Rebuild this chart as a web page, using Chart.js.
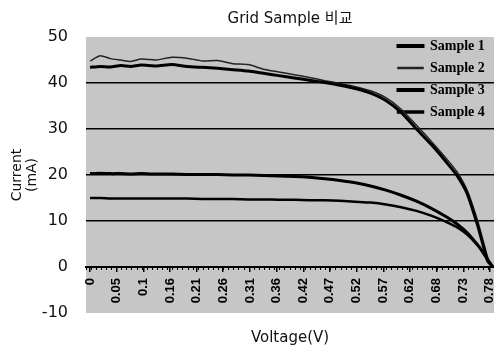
<!DOCTYPE html>
<html>
<head>
<meta charset="utf-8">
<script src="https://cdn.jsdelivr.net/npm/chart.js@4.4.1/dist/chart.umd.min.js"></script>
<style>
  html, body { margin: 0; padding: 0; background: #fff; }
  #wrap { width: 494px; height: 347px; }
</style>
</head>
<body>
<div id="wrap"><canvas id="chart"></canvas></div>
<script>
// Voltage points (V)
const voltage = [0, 0.02, 0.04, 0.06, 0.08, 0.1, 0.13, 0.16, 0.19, 0.22, 0.25, 0.28, 0.31, 0.34, 0.37, 0.4,
  0.43, 0.46, 0.49, 0.52, 0.55, 0.58, 0.61, 0.64, 0.67, 0.7, 0.72, 0.74, 0.76, 0.77, 0.78, 0.79];

// Current (mA) per sample
const sample1 = [43.4, 43.6, 43.5, 43.8, 43.6, 43.9, 43.7, 44.0, 43.6, 43.4, 43.2, 42.9, 42.6, 42.1, 41.6, 41.1,
  40.6, 40.1, 39.5, 38.8, 37.8, 36.2, 33.6, 30.0, 26.5, 22.6, 19.8, 15.8, 9.0, 5.0, 1.2, 0];
const sample2 = [44.8, 45.9, 45.3, 45.0, 44.7, 45.2, 45.0, 45.6, 45.4, 44.8, 44.9, 44.2, 44.0, 43.0, 42.4, 41.8,
  41.2, 40.5, 39.9, 39.2, 38.3, 36.8, 34.3, 30.8, 27.2, 23.4, 20.6, 16.5, 10.0, 6.0, 2.0, 0];
const sample3 = [20.3, 20.4, 20.3, 20.3, 20.2, 20.3, 20.2, 20.2, 20.1, 20.1, 20.1, 20.0, 20.0, 19.9, 19.8, 19.7,
  19.5, 19.2, 18.8, 18.3, 17.6, 16.7, 15.6, 14.3, 12.7, 10.8, 9.3, 7.4, 4.8, 3.3, 1.5, 0];
const sample4 = [15.0, 15.0, 14.9, 14.9, 14.9, 14.9, 14.9, 14.9, 14.9, 14.8, 14.8, 14.8, 14.7, 14.7, 14.6, 14.6,
  14.5, 14.5, 14.4, 14.2, 14.0, 13.6, 13.0, 12.2, 11.1, 9.7, 8.6, 7.0, 4.7, 3.2, 1.5, 0];

// Axis ticks
const xTickValues = [0, 0.052, 0.105, 0.157, 0.209, 0.261, 0.314, 0.366, 0.418, 0.47, 0.523, 0.575, 0.627, 0.68, 0.732, 0.784];
const xTickLabels = ['0', '0.05', '0.1', '0.16', '0.21', '0.26', '0.31', '0.36', '0.42', '0.47', '0.52', '0.57', '0.62', '0.68', '0.73', '0.78'];
const yTickValues = [-10, 0, 10, 20, 30, 40, 50];
const yGridValues = [10, 20, 30, 40];

const X_MIN = -0.008;
const X_MAX = 0.792;

function makeDataset(label, values, width, color) {
  return {
    label: label,
    data: voltage.map((v, i) => ({ x: v, y: values[i] })),
    borderColor: color,
    backgroundColor: color,
    borderWidth: width,
    pointRadius: 0,
    tension: 0.2,
    fill: false,
  };
}

// Grey plot area, white page
const plotBackground = {
  id: 'plotBackground',
  beforeDraw(chart) {
    const { ctx, chartArea: a } = chart;
    ctx.save();
    ctx.fillStyle = '#fff';
    ctx.fillRect(0, 0, chart.width, chart.height);
    ctx.fillStyle = '#c6c6c6';
    ctx.fillRect(a.left, a.top, a.right - a.left, a.bottom - a.top);
    ctx.restore();
  },
};

// Put the legend in the top right corner of the plot
const legendPlacer = {
  id: 'legendPlacer',
  afterLayout(chart) {
    const lg = chart.legend;
    if (!lg) return;
    const w = lg.width;
    const h = lg.height;
    lg.left = 390;
    lg.right = lg.left + w;
    lg.top = 31;
    lg.bottom = lg.top + h;
  },
};

new Chart(document.getElementById('chart'), {
  type: 'line',
  data: {
    datasets: [
      makeDataset('Sample 1', sample1, 3, '#000'),
      makeDataset('Sample 2', sample2, 1.5, '#222'),
      makeDataset('Sample 3', sample3, 3, '#000'),
      makeDataset('Sample 4', sample4, 2.5, '#000'),
    ],
  },
  plugins: [plotBackground, legendPlacer],
  options: {
    responsive: true,
    maintainAspectRatio: false,
    animation: false,
    layout: { padding: 0 },
    plugins: {
      title: {
        display: true,
        text: 'Grid Sample 비교',
        fullSize: false,
        color: '#111',
        font: { family: "'DejaVu Sans', 'Noto Sans CJK KR'", size: 15, weight: 'normal' },
        padding: { top: 10, bottom: 9 },
      },
      legend: {
        position: 'chartArea',
        align: 'start',
        labels: {
          boxWidth: 25,
          boxHeight: 1,
          padding: 8,
          color: '#000',
          font: { family: 'Liberation Serif', size: 14, weight: 'bold' },
        },
      },
      tooltip: { enabled: false },
    },
    scales: {
      x: {
        type: 'linear',
        min: X_MIN,
        max: X_MAX,
        position: 'bottom',
        grid: { display: false },
        border: { display: false },
        ticks: { display: false },
        title: {
          display: true,
          text: 'Voltage(V)',
          color: '#111',
          font: { family: 'DejaVu Sans', size: 15 },
          padding: { top: 0, bottom: 0 },
        },
        afterFit(scale) {
          scale.height = 34;
        },
      },
      xTicks: {
        type: 'linear',
        axis: 'x',
        min: X_MIN,
        max: X_MAX,
        position: { y: 0 },
        grid: { display: true, drawOnChartArea: false, drawTicks: true, tickLength: 4, color: '#000', lineWidth: 1.5 },
        border: { display: true, color: '#000', width: 2 },
        afterBuildTicks(scale) {
          scale.ticks = xTickValues.map(v => ({ value: v }));
        },
        ticks: {
          autoSkip: false,
          minRotation: 90,
          maxRotation: 90,
          padding: 7,
          color: '#000',
          font: { family: 'Liberation Sans', size: 13, weight: 'bold' },
          callback: (value, index) => xTickLabels[index],
        },
        afterFit(scale) {
          scale.height = 0;
          scale.paddingLeft = 0;
          scale.paddingRight = 0;
        },
      },
      xMinor: {
        type: 'linear',
        axis: 'x',
        min: X_MIN,
        max: X_MAX,
        position: { y: 0 },
        grid: { display: true, drawOnChartArea: false, drawTicks: true, tickLength: 3, color: '#000', lineWidth: 1 },
        border: { display: false },
        ticks: { display: false, stepSize: 0.01 },
        afterFit(scale) {
          scale.height = 0;
          scale.paddingLeft = 0;
          scale.paddingRight = 0;
        },
      },
      y: {
        min: -10,
        max: 50,
        afterBuildTicks(scale) {
          scale.ticks = yTickValues.map(v => ({ value: v }));
        },
        ticks: {
          padding: 18,
          color: '#111',
          font: { family: 'DejaVu Sans', size: 16 },
        },
        grid: {
          drawTicks: false,
          lineWidth: 1.5,
          color: (c) => (yGridValues.includes(c.tick.value) ? '#000' : 'rgba(0,0,0,0)'),
        },
        border: { display: false },
        title: {
          display: true,
          text: ['Current', '(mA)'],
          color: '#111',
          font: { family: 'DejaVu Sans', size: 14, lineHeight: 1.05 },
          padding: { top: 10, bottom: 0 },
        },
        afterFit(scale) {
          scale.width = 86;
        },
      },
    },
  },
});
</script>
</body>
</html>
